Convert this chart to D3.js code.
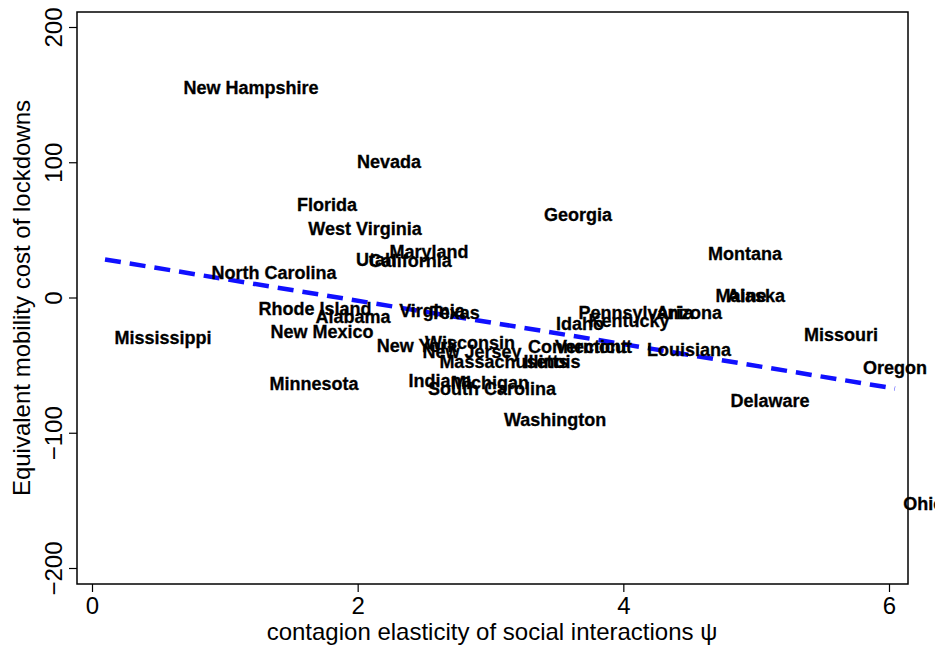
<!DOCTYPE html>
<html><head><meta charset="utf-8">
<script src="https://cdn.jsdelivr.net/npm/d3@7"></script>
<style>body{margin:0;background:#fff}svg{display:block}</style>
</head><body>
<script>
const states = ["New Hampshire","Nevada","Florida","West Virginia","Georgia","Maryland","Utah","California","Montana","North Carolina","Maine","Alaska","Rhode Island","Alabama","Virginia","Texas","Pennsylvania","Arizona","Idaho","Kentucky","Missouri","Mississippi","New Mexico","New York","Wisconsin","New Jersey","Connecticut","Vermont","Massachusetts","Illinois","Louisiana","Oregon","Minnesota","Indiana","Michigan","South Carolina","Delaware","Washington","Ohio"];
const psi = [1.197,2.236,1.769,2.055,3.659,2.537,2.138,2.395,4.916,1.370,4.886,4.999,1.679,1.965,2.560,2.733,4.095,4.494,3.674,4.043,5.639,0.535,1.732,2.447,2.846,2.861,3.674,3.757,3.101,3.463,4.494,6.045,1.671,2.620,2.996,3.011,5.104,3.486,6.262];
const cost = [155.3,100.6,68.8,51.0,61.4,34.0,28.1,27.4,32.5,18.5,1.5,1.5,-8.1,-14.0,-9.6,-11.1,-11.1,-11.1,-19.2,-17.0,-27.4,-29.6,-25.1,-35.5,-33.3,-39.9,-36.2,-36.2,-47.3,-47.3,-38.4,-51.8,-63.6,-61.4,-62.8,-67.3,-76.2,-90.2,-152.3];
const fitX = [0.098, 6.045];
const fitY = [28.1, -67.3];
const xTicks = [0,2,4,6];
const yTicks = [-200,-100,0,100,200];

const W = 935, H = 647;
const FONT = "Liberation Sans, Arial, sans-serif";
const svg = d3.select("body").append("svg").attr("width", W).attr("height", H);
const x = d3.scaleLinear().domain([0, 6]).range([92, 889]);
const y = d3.scaleLinear().domain([-200, 200]).range([568, 27]);
const frame = {l:77, r:908, t:12, b:584};

svg.append("rect").attr("x", frame.l).attr("y", frame.t)
  .attr("width", frame.r-frame.l).attr("height", frame.b-frame.t)
  .attr("fill","none").attr("stroke","#000").attr("stroke-width",1.5);

// x axis
const xa = svg.append("g").attr("transform", `translate(0,${frame.b})`)
  .call(d3.axisBottom(x).tickValues(xTicks).tickSize(8).tickPadding(5).tickFormat(d3.format("d")));
xa.select(".domain").remove();
xa.selectAll("text").attr("font-family",FONT).attr("font-size",24).attr("fill","#000");
xa.selectAll("line").attr("stroke-width",1.2);

// y axis
const ya = svg.append("g").attr("transform", `translate(${frame.l},0)`)
  .call(d3.axisLeft(y).tickValues(yTicks).tickSize(8).tickFormat(d3.format("d")));
ya.select(".domain").remove();
ya.selectAll("line").attr("stroke-width",1.2);
ya.selectAll(".tick").each(function(d){
  const t = d3.select(this);
  t.select("text").attr("font-family",FONT).attr("font-size",24).attr("fill","#000")
    .attr("text-anchor","middle").attr("x",0).attr("y",0).attr("dy",0)
    .attr("transform","translate(-15,0) rotate(-90)");
});

// titles
svg.append("text").attr("x", 492).attr("y", 640).attr("text-anchor","middle")
  .attr("font-family",FONT).attr("font-size",24)
  .text("contagion elasticity of social interactions \u03c8");
svg.append("text").attr("transform", "translate(30,298) rotate(-90)").attr("text-anchor","middle")
  .attr("font-family",FONT).attr("font-size",24)
  .text("Equivalent mobility cost of lockdowns");

// fit line
svg.append("path")
  .attr("d", d3.line().x(d=>x(d[0])).y(d=>y(d[1]))(fitX.map((v,i)=>[v, fitY[i]])))
  .attr("stroke","#1010ff").attr("stroke-width",4.5).attr("stroke-dasharray","16,9").attr("fill","none");

// labels
svg.append("g").selectAll("text").data(states).join("text")
  .attr("x", (d,i)=>x(psi[i])).attr("y", (d,i)=>y(cost[i]))
  .attr("dy","0.35em").attr("text-anchor","middle")
  .attr("font-family",FONT).attr("font-size",18).attr("font-weight","bold")
  .attr("fill","#000").attr("stroke","#000").attr("stroke-width",0.3)
  .text(d=>d);
</script>
</body></html>
